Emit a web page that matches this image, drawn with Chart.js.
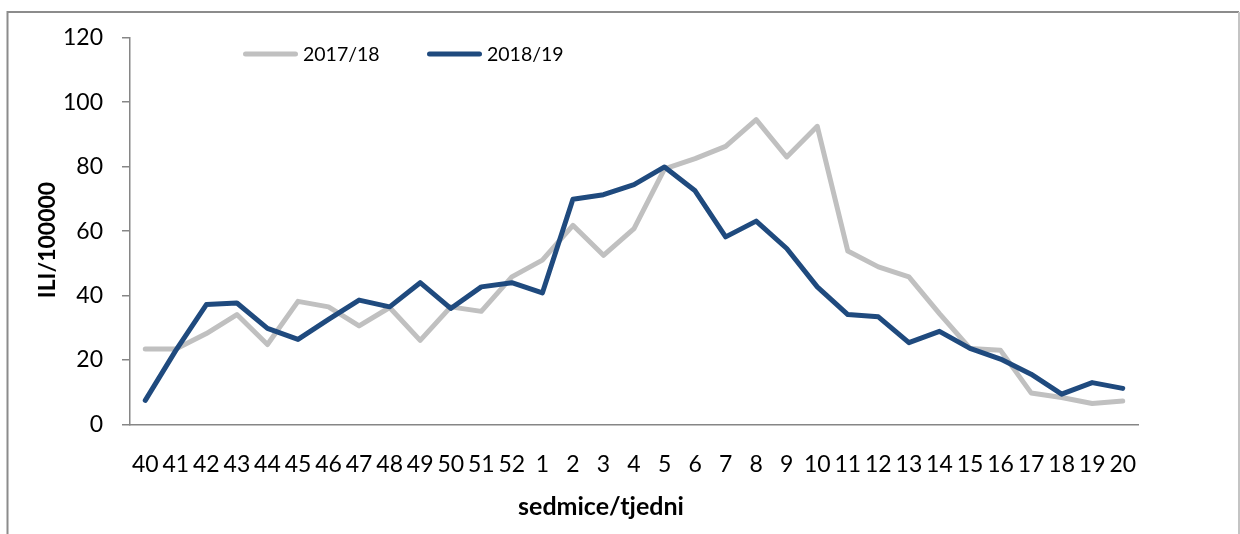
<!DOCTYPE html>
<html>
<head>
<meta charset="utf-8">
<script src="https://cdn.jsdelivr.net/npm/chart.js@4.4.0/dist/chart.umd.min.js"></script>
<style>
  html, body { margin: 0; padding: 0; background: #fff; }
  #wrap { width: 1240px; height: 534px; }
</style>
</head>
<body>
<div id="wrap"><canvas id="c" width="1240" height="534"></canvas></div>
<script>
const weeks = ['40','41','42','43','44','45','46','47','48','49','50','51','52',
  '1','2','3','4','5','6','7','8','9','10','11','12','13','14','15','16','17','18','19','20'];
const season1718 = [23.4, 23.4, 28.2, 34.1, 24.8, 38.2, 36.5, 30.6, 36.3, 26.1, 36.5, 35.1, 45.8,
  51.0, 61.8, 52.5, 60.8, 79.3, 82.5, 86.3, 94.6, 83.0, 92.5, 53.8, 48.9, 45.8, 34.4, 23.6, 23.0, 9.8, 8.4, 6.5, 7.3];
const season1819 = [7.5, 23.0, 37.2, 37.7, 29.8, 26.4, 32.6, 38.6, 36.5, 44.0, 36.0, 42.7, 44.0,
  40.8, 69.9, 71.3, 74.4, 79.9, 72.5, 58.2, 63.1, 54.6, 42.7, 34.1, 33.4, 25.4, 28.9, 23.6, 20.3, 15.6, 9.4, 13.0, 11.2];
const seriesLabels = ['2017/18', '2018/19'];
const yTicks = [0, 20, 40, 60, 80, 100, 120];
const yTitle = 'ILI/100000';
const xTitle = 'sedmice/tjedni';

const FONT = 'Lato, "Open Sans", sans-serif';

const framePlugin = {
  id: 'frame',
  beforeDraw(chart) {
    const c = chart.ctx;
    c.save();
    c.fillStyle = '#fff';
    c.fillRect(0, 0, chart.width, chart.height);
    c.lineWidth = 2;
    c.strokeStyle = '#8c8c8c';
    c.beginPath();
    c.moveTo(7.5, chart.height);
    c.lineTo(7.5, 12);
    c.lineTo(1239, 12);
    c.stroke();
    c.strokeStyle = '#c4c4c4';
    c.beginPath();
    c.moveTo(1239, 12);
    c.lineTo(1239, chart.height);
    c.stroke();
    c.restore();
  }
};

const titlesPlugin = {
  id: 'titles',
  afterDraw(chart) {
    const c = chart.ctx;
    c.save();
    c.fillStyle = '#000';
    c.textAlign = 'center';
    c.textBaseline = 'middle';
    c.font = 'bold 25px ' + FONT;
    c.fillText(xTitle, 601, 507);
    c.font = 'bold 23px ' + FONT;
    c.translate(48, 240);
    c.rotate(-Math.PI / 2);
    c.fillText(yTitle, 0, 0);
    c.restore();
  }
};

const legendPlugin = {
  id: 'customLegend',
  afterDraw(chart) {
    const c = chart.ctx;
    const starts = [245.5, 429.5];
    c.save();
    c.font = '19.5px ' + FONT;
    c.textBaseline = 'middle';
    c.textAlign = 'left';
    chart.data.datasets.forEach((ds, i) => {
      const x = starts[i];
      c.strokeStyle = ds.borderColor;
      c.lineWidth = 5;
      c.lineCap = 'round';
      c.beginPath();
      c.moveTo(x, 54);
      c.lineTo(x + 50, 54);
      c.stroke();
      c.fillStyle = '#000';
      c.fillText(ds.label, x + 57.5, 55);
    });
    c.restore();
  }
};

new Chart(document.getElementById('c'), {
  type: 'line',
  data: {
    labels: weeks,
    datasets: [
      { label: seriesLabels[0], data: season1718, borderColor: '#c0c0c0', backgroundColor: '#c0c0c0',
        borderWidth: 5, pointRadius: 0, tension: 0, borderCapStyle: 'round', borderJoinStyle: 'round', order: 1 },
      { label: seriesLabels[1], data: season1819, borderColor: '#1f4a7e', backgroundColor: '#1f4a7e',
        borderWidth: 5, pointRadius: 0, tension: 0, borderCapStyle: 'round', borderJoinStyle: 'round', order: 0 }
    ]
  },
  options: {
    responsive: false,
    animation: false,
    layout: { padding: { top: 37.7, right: 102, bottom: 0, left: 0 } },
    plugins: { legend: { display: false }, tooltip: { enabled: false } },
    scales: {
      x: {
        offset: true,
        grid: { display: false, drawTicks: false },
        border: { color: '#868686', width: 1.5 },
        ticks: { autoSkip: false, maxRotation: 0, minRotation: 0, padding: 26, color: '#000',
          font: { family: FONT, size: 23 } },
        afterFit(s) { s.height = 534 - 424.5; }
      },
      y: {
        min: yTicks[0],
        max: yTicks[yTicks.length - 1],
        afterBuildTicks(s) { s.ticks = yTicks.map(v => ({ value: v })); },
        grid: { drawOnChartArea: false, drawTicks: true, tickLength: 8, color: '#868686', lineWidth: 1.5 },
        border: { color: '#868686', width: 1.5 },
        ticks: { padding: 19, color: '#000', font: { family: FONT, size: 23 } },
        afterFit(s) { s.width = 130; }
      }
    }
  },
  plugins: [framePlugin, titlesPlugin, legendPlugin]
});
</script>
</body>
</html>
